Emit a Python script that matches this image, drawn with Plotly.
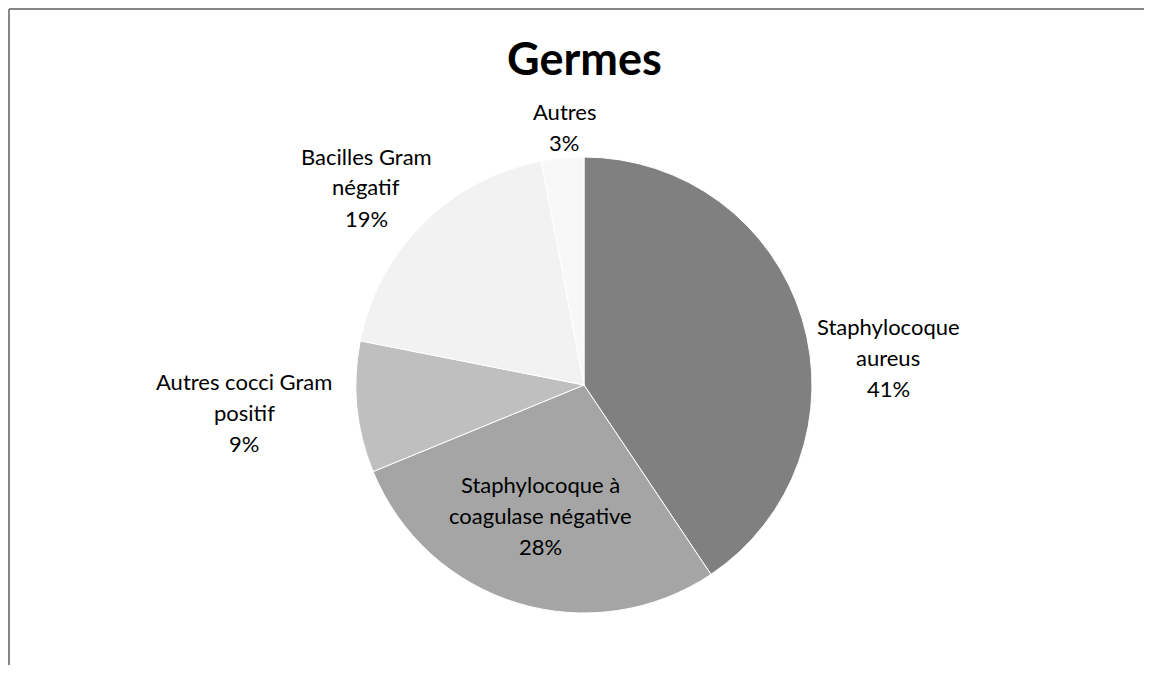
import plotly.graph_objects as go

# Data
categories = ["Staphylocoque aureus", "Staphylocoque à coagulase négative",
              "Autres cocci Gram positif", "Bacilles Gram négatif", "Autres"]
label_lines = [["Staphylocoque", "aureus"], ["Staphylocoque à", "coagulase négative"],
               ["Autres cocci Gram", "positif"], ["Bacilles Gram", "négatif"], ["Autres"]]
values = [40.6, 28.2, 9.3, 18.9, 3.0]
colors = ["#808080", "#A5A5A5", "#BFBFBF", "#F2F2F2", "#F8F8F8"]
title = "Germes"

# page body has an 8px margin: figure sized to fit the window without scrolling
OFF = 8
W, H = 1152 - OFF, 673 - 2 * OFF


def px(x):
    return (x - OFF) / W


def py(y):
    return 1 - (y - OFF) / H


# label block centers (reference pixels) - layout only
label_pos = [(888, 357), (540, 515), (244, 412), (366, 187), (564, 127)]
LINE = 31

total = sum(values)
pcts = [round(v / total * 100) for v in values]

CX, CY, R = 584, 385, 228
fig = go.Figure(go.Pie(
    labels=categories,
    values=values,
    sort=False,
    direction="clockwise",
    rotation=0,
    textinfo="none",
    hoverinfo="label+percent",
    marker=dict(colors=colors, line=dict(color="white", width=1)),
    showlegend=False,
    domain=dict(x=[px(CX - R), px(CX + R)], y=[py(CY + R), py(CY - R)]),
))

font_family = "Lato, 'Open Sans', sans-serif"
for lines, p, (cx, cy) in zip(label_lines, pcts, label_pos):
    all_lines = lines + [f"{p}%"]
    n = len(all_lines)
    for i, t in enumerate(all_lines):
        yy = cy + (i - (n - 1) / 2) * LINE
        fig.add_annotation(
            x=px(cx), y=py(yy), xref="paper", yref="paper",
            text=t, showarrow=False,
            xanchor="center", yanchor="middle", align="center",
            font=dict(family=font_family, size=22, color="#000000"),
        )

fig.add_annotation(
    x=px(584), y=py(58), xref="paper", yref="paper",
    text=f"<b>{title}</b>", showarrow=False, xanchor="center", yanchor="middle",
    font=dict(family=font_family, size=45, color="#000000"),
)

# chart frame: only the left and top edges are visible in the view
frame = dict(color="#868686", width=2)
fig.add_shape(type="line", xref="paper", yref="paper",
              x0=1 / W, x1=1 / W, y0=-0.05, y1=1 - 1 / H, line=frame, layer="below")
fig.add_shape(type="line", xref="paper", yref="paper",
              x0=1 / W, x1=1.05, y0=1 - 1 / H, y1=1 - 1 / H, line=frame, layer="below")

fig.update_layout(
    width=W, height=H,
    margin=dict(l=0, r=0, t=0, b=0),
    paper_bgcolor="white", plot_bgcolor="white",
)

fig.write_html("out.html")
